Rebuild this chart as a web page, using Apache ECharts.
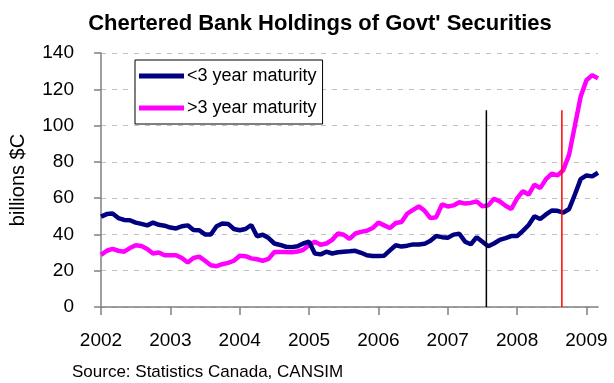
<!DOCTYPE html>
<html>
<head>
<meta charset="utf-8">
<script src="https://cdn.jsdelivr.net/npm/echarts@6/dist/echarts.min.js"></script>
<style>
  html, body { margin: 0; padding: 0; background: #ffffff; }
  #chart { width: 614px; height: 383px; }
</style>
</head>
<body>
<div id="chart"></div>
<script>
// Monthly holdings, January 2002 through March 2009 (billions $C)
const startYear = 2002;
const shortTerm = [
  49.8, 51.2, 51.5, 49.0, 48.0, 47.8, 46.5, 45.8, 45.0, 46.5, 45.3, 44.8,
  43.8, 43.3, 44.5, 45.0, 42.4, 42.3, 40.0, 40.0, 44.5, 46.0, 45.8, 43.0,
  42.3, 43.0, 45.2, 39.0, 39.8, 38.0, 35.0, 34.2, 33.2, 33.0, 33.5, 35.0,
  36.0, 29.5, 29.0, 30.5, 29.5, 30.2, 30.5, 30.7, 31.0, 29.9, 28.5, 28.1,
  28.1, 28.3, 31.2, 34.0, 33.3, 33.8, 34.5, 34.5, 34.8, 36.5, 39.1, 38.5,
  38.2, 39.9, 40.4, 36.0, 34.6, 38.5, 36.0, 33.5, 35.0, 37.0, 38.0, 39.1,
  39.1, 42.0, 45.2, 50.0, 48.5, 51.0, 53.2, 53.0, 52.0, 54.0, 62.0, 70.5,
  72.5, 72.0, 74.0
];
const longTerm = [
  28.7, 31.0, 32.0, 31.0, 30.5, 32.5, 34.0, 33.6, 32.0, 29.5, 30.0, 28.5,
  28.5, 28.5, 27.0, 24.5, 27.0, 27.8, 25.5, 23.0, 22.5, 23.6, 24.3, 25.5,
  28.2, 28.0, 26.8, 26.3, 25.5, 26.5, 30.3, 30.3, 30.3, 30.2, 30.6, 31.5,
  34.0, 36.0, 34.3, 35.0, 37.0, 40.5, 39.8, 37.5, 40.5, 41.4, 42.0, 43.5,
  46.5, 45.0, 43.5, 46.3, 46.8, 51.5, 53.5, 55.5, 53.0, 49.0, 49.5, 56.5,
  55.4, 56.0, 57.7, 57.0, 57.4, 58.2, 55.5, 56.0, 59.7, 58.2, 55.8, 54.0,
  59.9, 63.8, 62.0, 67.5, 65.5, 70.5, 73.5, 72.5, 75.5, 84.0, 100.0, 116.0,
  125.0, 127.8, 126.0
];
const seriesNames = ['<3 year maturity', '>3 year maturity'];
const yearTicks = [2002, 2003, 2004, 2005, 2006, 2007, 2008, 2009];
const valueTicks = [0, 20, 40, 60, 80, 100, 120, 140];
// Vertical event markers (decimal year) and their common height
const eventYears = [2007.557, 2008.646];
const eventTop = 108.5;

const eventColors = ['#000000', '#ff0000'];
const lineColors = ['#000080', '#ff00ff'];
const font = "'Liberation Sans', Arial, sans-serif";

function toPoints(values) {
  return values.map((v, i) => [startYear + i / 12, v]);
}

const lastX = startYear + (shortTerm.length - 1) / 12;

const chart = echarts.init(document.getElementById('chart'), null, { renderer: 'canvas' });

const series = [shortTerm, longTerm].map((vals, k) => ({
  name: seriesNames[k], type: 'line', data: toPoints(vals),
  showSymbol: false, symbol: 'none', z: 3 - k,
  legendIcon: 'rect',
  lineStyle: { color: lineColors[k], width: 4.5 },
  itemStyle: { color: lineColors[k] }
}));
eventYears.forEach((yr, k) => {
  series.push({
    type: 'line', data: [[yr, 0], [yr, eventTop]], symbol: 'none', z: 5,
    silent: true, lineStyle: { color: eventColors[k], width: 1.5 }
  });
});

chart.setOption({
  animation: false,
  backgroundColor: '#ffffff',
  title: {
    text: "Chertered Bank Holdings of Govt' Securities",
    left: 315, top: 8, textAlign: 'center',
    textStyle: { fontFamily: font, fontSize: 22, fontWeight: 'bold', color: '#000000' }
  },
  legend: {
    data: seriesNames,
    orient: 'vertical',
    left: 135, top: 60,
    padding: [7, 6, 7, 4],
    itemGap: 14,
    itemWidth: 45, itemHeight: 5,
    icon: 'rect',
    itemStyle: { borderWidth: 0 },
    lineStyle: { width: 0, opacity: 0 },
    backgroundColor: '#ffffff',
    borderColor: '#000000', borderWidth: 1,
    textStyle: { fontFamily: font, fontSize: 18, color: '#000000', padding: [0, 0, 0, -2] }
  },
  grid: { left: 93.5, right: 16, top: 53, bottom: 76, containLabel: false },
  xAxis: {
    type: 'value', min: startYear, max: lastX,
    axisLine: { lineStyle: { color: '#808080', width: 1.5 } },
    axisTick: { show: true, length: 8, inside: false, customValues: yearTicks,
      lineStyle: { color: '#808080', width: 1.5 } },
    axisLabel: { customValues: yearTicks, margin: 24, fontFamily: font, fontSize: 19, color: '#000000',
      formatter: v => String(Math.round(v)) },
    splitLine: { show: false }
  },
  yAxis: {
    type: 'value', min: valueTicks[0], max: valueTicks[valueTicks.length - 1], interval: 20,
    name: 'billions $C', nameLocation: 'middle', nameGap: 73, nameRotate: 90,
    nameTextStyle: { fontFamily: font, fontSize: 20, color: '#000000' },
    axisLine: { show: true, lineStyle: { color: '#808080', width: 1.5 } },
    axisTick: { show: true, length: 7, lineStyle: { color: '#808080', width: 1.5 } },
    axisLabel: { margin: 27, fontFamily: font, fontSize: 19, color: '#000000' },
    splitLine: { show: true, lineStyle: { color: '#c0c0c0', width: 1, type: [5, 6] } }
  },
  graphic: [{
    type: 'text', left: 72, top: 364,
    style: { text: 'Source: Statistics Canada, CANSIM', fontFamily: font, fontSize: 17, fill: '#000000' }
  }],
  series: series
});
</script>
</body>
</html>
